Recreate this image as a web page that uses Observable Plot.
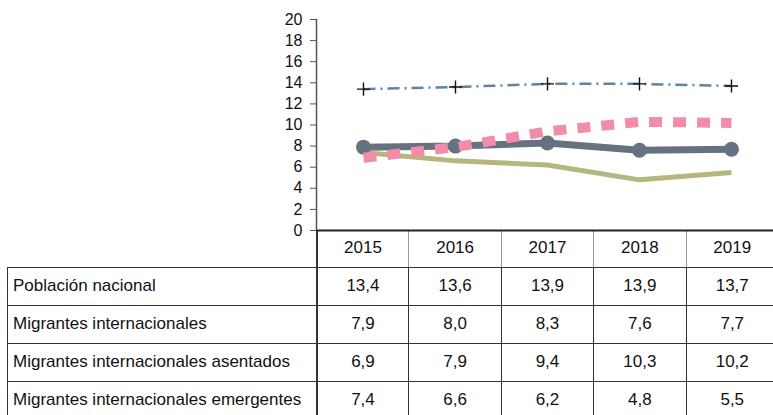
<!DOCTYPE html>
<html>
<head>
<meta charset="utf-8">
<script src="https://cdn.jsdelivr.net/npm/d3@7"></script>
<script src="https://cdn.jsdelivr.net/npm/@observablehq/plot@0.6"></script>
<style>
  html, body { margin: 0; padding: 0; background: #fff; }
  #wrap { position: relative; width: 773px; height: 415px; overflow: hidden; font-family: "Liberation Sans", Arial, sans-serif; }
  #chart { position: absolute; left: 0; top: 0; }
  #tbl { position: absolute; left: 7px; top: 230px; border-collapse: collapse; table-layout: fixed; font-size: 17px; color: #111; }
  #tbl td { padding: 0; height: 37px; text-align: center; border: 1.5px solid #333; box-sizing: border-box; }
  #tbl td.lab { text-align: left; padding-left: 5px; }
  #tbl tr.head td { border-top: none; border-left: 1px solid #999; border-right: 1px solid #999; border-bottom: 1.5px solid #333; }
  #tbl tr.head td.blank { border: none; border-bottom: 1.5px solid #333; }
  #tbl td.c1 { border-left: 2px solid #333 !important; }
</style>
</head>
<body>
<div id="wrap">
  <table id="tbl"></table>
  <div id="chart"></div>
</div>
<script>
const years = [2015, 2016, 2017, 2018, 2019];
const seriesNames = [
  "Población nacional",
  "Migrantes internacionales",
  "Migrantes internacionales asentados",
  "Migrantes internacionales emergentes"
];
const poblacionNacional = [13.4, 13.6, 13.9, 13.9, 13.7];
const migrantesInternacionales = [7.9, 8.0, 8.3, 7.6, 7.7];
const migrantesAsentados = [6.9, 7.9, 9.4, 10.3, 10.2];
const migrantesEmergentes = [7.4, 6.6, 6.2, 4.8, 5.5];
const yTicks = [0, 2, 4, 6, 8, 10, 12, 14, 16, 18, 20];

const allValues = [poblacionNacional, migrantesInternacionales, migrantesAsentados, migrantesEmergentes];
const rows = (vals) => years.map((y, i) => ({year: y, value: vals[i]}));

const chart = Plot.plot({
  width: 773,
  height: 242,
  marginLeft: 316,
  marginRight: 0,
  marginTop: 19,
  marginBottom: 12,
  style: {fontFamily: "'Liberation Sans', Arial, sans-serif", fontSize: "16px", color: "#111", background: "transparent", overflow: "visible"},
  x: {type: "point", domain: years, range: [316, 778], padding: 0.5, axis: null},
  y: {domain: [0, 20], ticks: yTicks, tickSize: 6, tickPadding: 8, label: null, tickFormat: d3.format("d")},
  marks: [
    Plot.axisY({ticks: yTicks, tickSize: 6, tickPadding: 8, label: null, stroke: "#555", fill: "#111", fontSize: 16, tickFormat: d3.format("d")}),
    Plot.frame({anchor: "left", stroke: "#555", strokeWidth: 1.5}),
    Plot.line(rows(migrantesEmergentes), {x: "year", y: "value", stroke: "#b6b67f", strokeWidth: 5, strokeLinecap: "butt"}),
    Plot.line(rows(migrantesInternacionales), {x: "year", y: "value", stroke: "#66727f", strokeWidth: 7}),
    Plot.dot(rows(migrantesInternacionales), {x: "year", y: "value", fill: "#66727f", r: 7.5}),
    Plot.line(rows(migrantesAsentados), {x: "year", y: "value", stroke: "#f28ca9", strokeWidth: 10, strokeDasharray: "13,11", strokeLinecap: "butt", strokeLinejoin: "miter"}),
    Plot.line(rows(poblacionNacional), {x: "year", y: "value", stroke: "#5f84a3", strokeWidth: 2.5, strokeDasharray: "12,5,2,5", strokeLinecap: "butt"}),
    Plot.dot(rows(poblacionNacional), {x: "year", y: "value", symbol: "plus", stroke: "#111", strokeWidth: 1.4, r: 4.3}),
    Plot.ruleY([0], {stroke: "#222", strokeWidth: 2})
  ]
});
document.getElementById("chart").appendChild(chart);

// data table below the chart
const tbl = document.getElementById("tbl");
const colgroup = document.createElement("colgroup");
const c0 = document.createElement("col"); c0.style.width = "309px"; colgroup.appendChild(c0);
years.forEach(() => { const c = document.createElement("col"); c.style.width = "92.4px"; colgroup.appendChild(c); });
tbl.appendChild(colgroup);
tbl.style.width = (309 + 92.4 * years.length) + "px";

const fmt = (v) => v.toFixed(1).replace(".", ",");
const head = document.createElement("tr");
head.className = "head";
const blank = document.createElement("td"); blank.className = "blank"; head.appendChild(blank);
years.forEach((y, i) => { const td = document.createElement("td"); td.textContent = y; if (i === 0) td.className = "c1"; head.appendChild(td); });
tbl.appendChild(head);
seriesNames.forEach((name, r) => {
  const tr = document.createElement("tr");
  const lab = document.createElement("td"); lab.className = "lab"; lab.textContent = name; tr.appendChild(lab);
  allValues[r].forEach((v, i) => { const td = document.createElement("td"); td.textContent = fmt(v); if (i === 0) td.className = "c1"; tr.appendChild(td); });
  tr.querySelectorAll("td").forEach(td => td.style.height = "38px");
  tbl.appendChild(tr);
});
</script>
</body>
</html>
